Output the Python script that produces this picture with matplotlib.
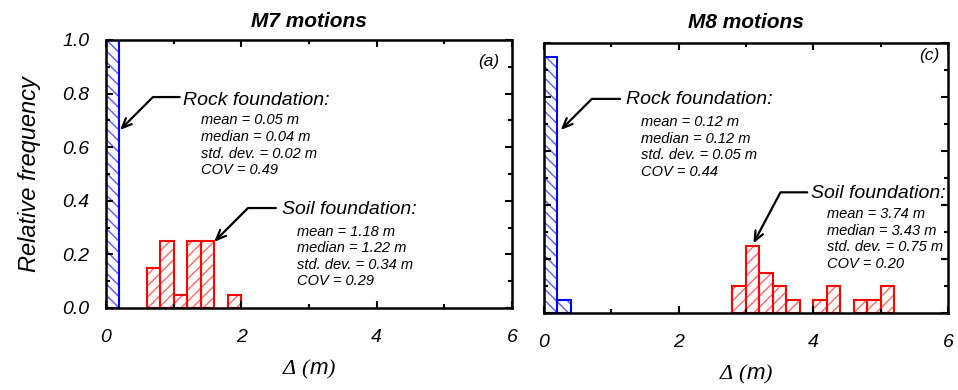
import numpy as np
import matplotlib
matplotlib.use('Agg')
import matplotlib.pyplot as plt
from matplotlib.ticker import MultipleLocator, FormatStrFormatter

plt.rcParams['font.family'] = ['Liberation Sans', 'DejaVu Sans']
plt.rcParams['font.style'] = 'italic'
plt.rcParams['mathtext.fontset'] = 'custom'
plt.rcParams['mathtext.rm'] = 'Liberation Serif'
plt.rcParams['mathtext.it'] = 'Liberation Sans:italic'
plt.rcParams['hatch.linewidth'] = 1.0

# data: histogram bins (left edge) and relative frequencies
bin_width = 0.2

m7_rock_edges = [0.0]
m7_rock_freq = [1.0]
m7_soil_edges = [0.6, 0.8, 1.0, 1.2, 1.4, 1.8]
m7_soil_freq = [0.15, 0.25, 0.05, 0.25, 0.25, 0.05]

m8_rock_edges = [0.0, 0.2]
m8_rock_freq = [0.95, 0.05]
m8_soil_edges = [2.8, 3.0, 3.2, 3.4, 3.6, 4.0, 4.2, 4.6, 4.8, 5.0]
m8_soil_freq = [0.10, 0.25, 0.15, 0.10, 0.05, 0.05, 0.10, 0.05, 0.05, 0.10]

titles = ['M7 motions', 'M8 motions']
panel_tags = ['(a)', '(c)']
rock_stats = [['mean = 0.05 m', 'median = 0.04 m', 'std. dev. = 0.02 m', 'COV = 0.49'],
              ['mean = 0.12 m', 'median = 0.12 m', 'std. dev. = 0.05 m', 'COV = 0.44']]
soil_stats = [['mean = 1.18 m', 'median = 1.22 m', 'std. dev. = 0.34 m', 'COV = 0.29'],
              ['mean = 3.74 m', 'median = 3.43 m', 'std. dev. = 0.75 m', 'COV = 0.20']]


def hist_bars(ax, edges, freq, color, light, hatch):
    ax.bar(edges, freq, width=bin_width, align='edge', fill=False,
           edgecolor=light, hatch=hatch, linewidth=0)
    ax.bar(edges, freq, width=bin_width, align='edge', fill=False,
           edgecolor=color, linewidth=1.5)


def callout(ax, title, lines, text_xy, arrow_start, tip, angle, line_x, line_y0, dy):
    ax.text(text_xy[0], text_xy[1], title, fontsize=14, ha='left', va='center')
    ax.annotate('', xy=tip, xytext=arrow_start,
                arrowprops=dict(arrowstyle='->,head_length=0.7,head_width=0.3',
                                color='black', lw=1.6, shrinkA=0, shrinkB=0,
                                connectionstyle='angle,angleA=0,angleB=%d,rad=0' % angle))
    for i, s in enumerate(lines):
        ax.text(line_x, line_y0 - i * dy, s, fontsize=10.5, ha='left', va='center')


fig = plt.figure(figsize=(9.58, 3.9), dpi=100)
ax1 = fig.add_axes([0.1106, 0.2103, 0.4238, 0.6872])
ax2 = fig.add_axes([0.5678, 0.1974, 0.4217, 0.6923])

hist_bars(ax1, m7_rock_edges, m7_rock_freq, 'blue', '#5a5aff', '\\\\\\')
hist_bars(ax1, m7_soil_edges, m7_soil_freq, 'red', '#ff6a6a', '///')
hist_bars(ax2, m8_rock_edges, m8_rock_freq, 'blue', '#5a5aff', '\\\\\\')
hist_bars(ax2, m8_soil_edges, m8_soil_freq, 'red', '#ff6a6a', '///')

for i, ax in enumerate([ax1, ax2]):
    ax.set_xlim(0, 6)
    ax.set_ylim(0, 1.0)
    ax.xaxis.set_major_locator(MultipleLocator(2))
    ax.xaxis.set_minor_locator(MultipleLocator(1))
    ax.yaxis.set_major_locator(MultipleLocator(0.2))
    ax.yaxis.set_minor_locator(MultipleLocator(0.1))
    ax.yaxis.set_major_formatter(FormatStrFormatter('%.1f'))
    ax.tick_params(which='both', direction='in', top=True, right=True, width=1.5)
    ax.tick_params(which='major', length=5, labelsize=14)
    ax.tick_params(axis='x', which='major', pad=15)
    ax.tick_params(axis='y', which='major', pad=12)
    ax.tick_params(which='minor', length=3)
    for sp in ax.spines.values():
        sp.set_linewidth(1.8)
    ax.set_title(titles[i], fontsize=15, fontweight='bold', pad=9 + 2 * i)
    ax.set_xlabel(r'$\mathrm{\Delta}\ \mathit{(m)}$', fontsize=16, labelpad=9)

ax2.tick_params(labelleft=False)
ax1.set_ylabel('Relative frequency', fontsize=17, labelpad=15)

ax1.text(0.970, 0.918, panel_tags[0], transform=ax1.transAxes, fontsize=12.5,
         ha='right', va='center')
ax2.text(0.980, 0.955, panel_tags[1], transform=ax2.transAxes, fontsize=12.5,
         ha='right', va='center')

callout(ax1, 'Rock foundation:', rock_stats[0], (1.14, 0.776), (1.09, 0.787),
        (0.207, 0.664), 45, 1.41, 0.70, 0.062)
callout(ax1, 'Soil foundation:', soil_stats[0], (2.60, 0.366), (2.51, 0.373),
        (1.60, 0.247), 45, 2.82, 0.285, 0.062)
callout(ax2, 'Rock foundation:', rock_stats[1], (1.22, 0.789), (1.13, 0.793),
        (0.25, 0.678), 45, 1.44, 0.706, 0.061)
callout(ax2, 'Soil foundation:', soil_stats[1], (3.97, 0.443), (3.91, 0.447),
        (3.11, 0.258), 62, 4.20, 0.367, 0.062)

fig.savefig('out.png', dpi=100)
